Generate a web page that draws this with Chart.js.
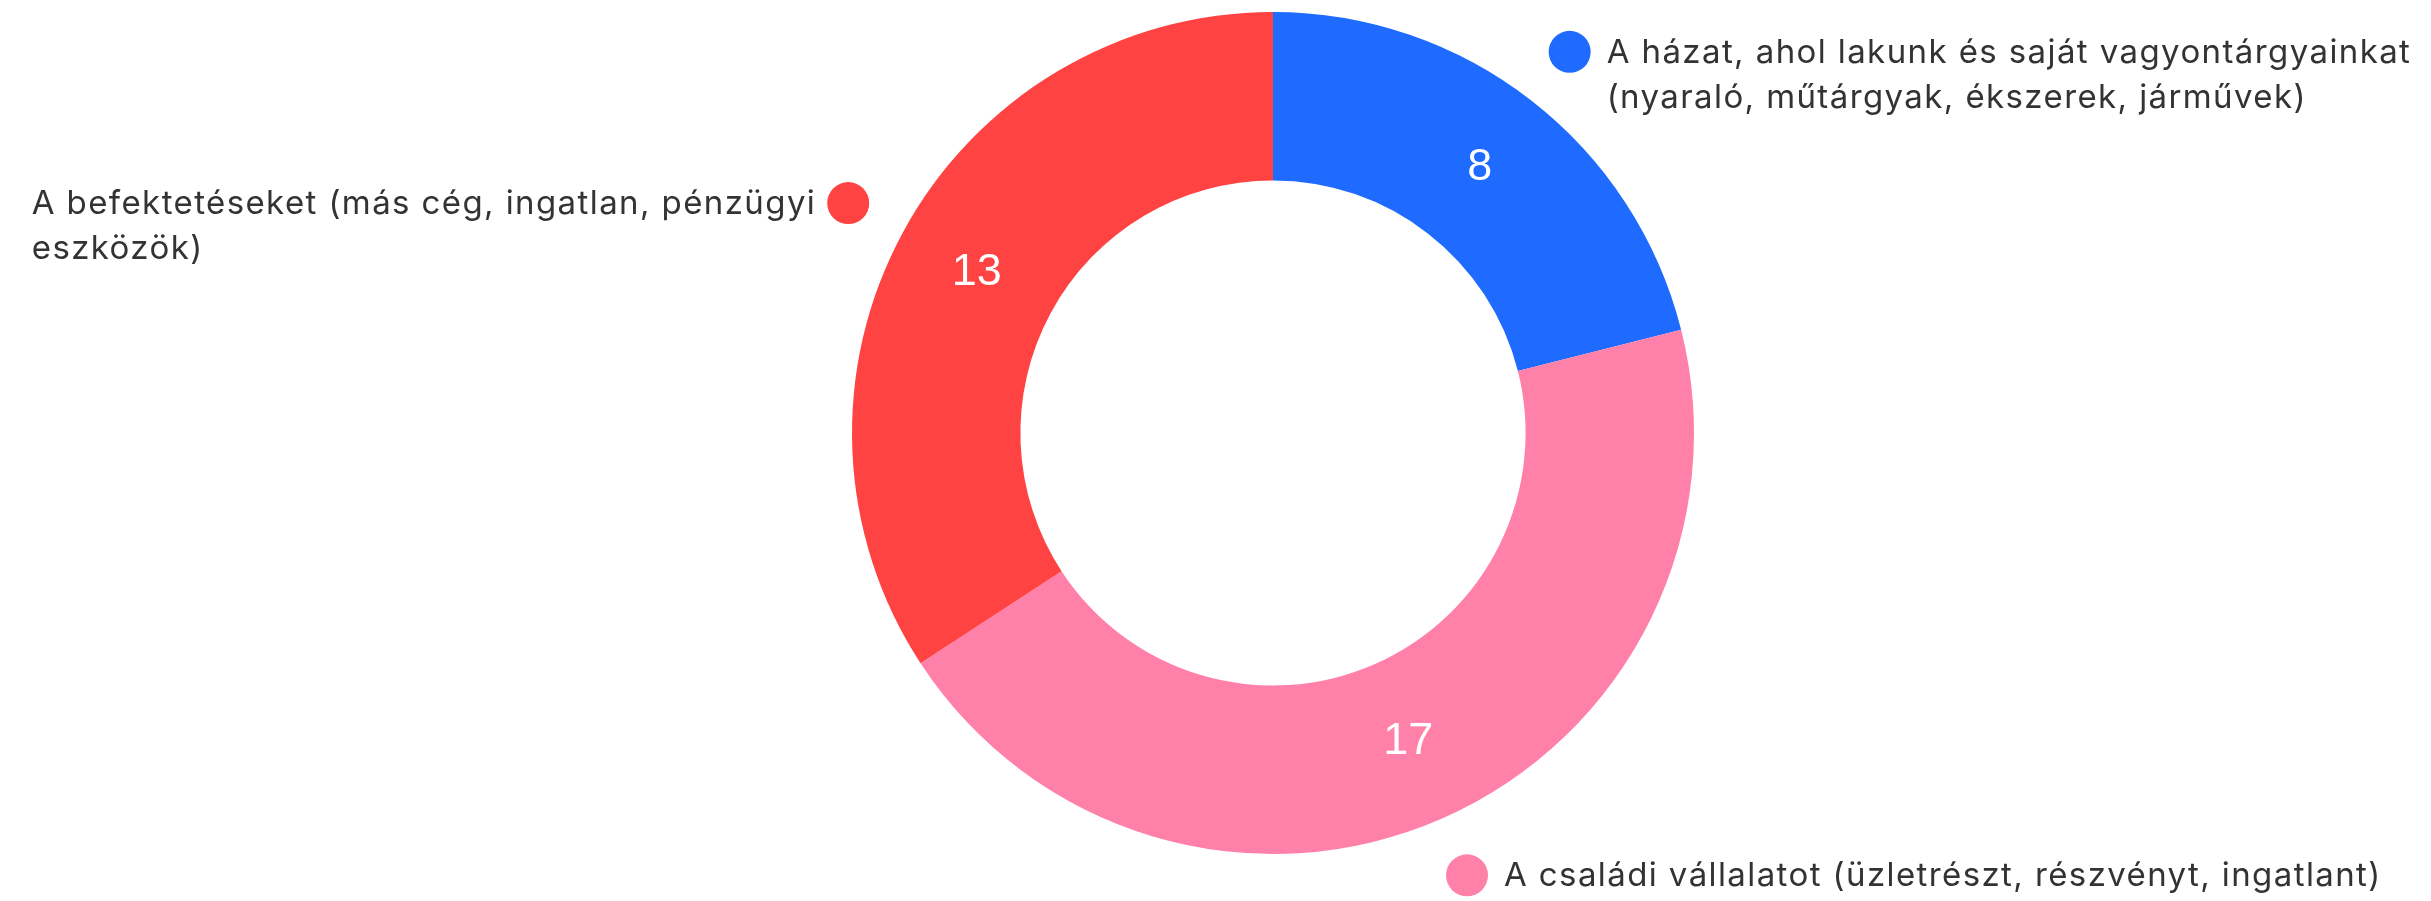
<!DOCTYPE html>
<html>
<head>
<meta charset="utf-8">
<script src="https://cdn.jsdelivr.net/npm/chart.js@4"></script>
<style>
  html, body { margin: 0; padding: 0; background: #fff; }
  #wrap { width: 2431px; height: 901px; }
</style>
</head>
<body>
<div id="wrap"><canvas id="myChart" width="2431" height="901"></canvas></div>
<script>
// categories (split into the lines shown next to each slice)
const categories = [
  ['A házat, ahol lakunk és saját vagyontárgyainkat', '(nyaraló, műtárgyak, ékszerek, járművek)'],
  ['A családi vállalatot (üzletrészt, részvényt, ingatlant)'],
  ['A befektetéseket (más cég, ingatlan, pénzügyi', 'eszközök)']
];
const values = [8, 17, 13];
const colors = ['#1f6bff', '#ff80a8', '#ff4242'];

// draws the numbers inside the ring and the dot + text callouts outside
const calloutPlugin = {
  id: 'callouts',
  afterDatasetsDraw(chart) {
    let ctx = chart.ctx;
    let meta = chart.getDatasetMeta(0);
    meta.data.forEach((arc, i) => {
      let p = arc.getProps(['x', 'y', 'startAngle', 'endAngle', 'innerRadius', 'outerRadius'], true);
      let mid = (p.startAngle + p.endAngle) / 2;
      let cos = Math.cos(mid), sin = Math.sin(mid);

      // value in the middle of the ring
      let rv = (p.innerRadius + p.outerRadius) / 2;
      ctx.save();
      ctx.fillStyle = '#ffffff';
      ctx.font = '45px "Liberation Sans", Arial, sans-serif';
      ctx.textAlign = 'center';
      ctx.textBaseline = 'middle';
      ctx.fillText(values[i], p.x + rv * cos, p.y + rv * sin);

      // dot
      let rd = p.outerRadius + 62;
      let dx = p.x + rd * cos, dy = p.y + rd * sin;
      ctx.beginPath();
      ctx.arc(dx, dy, 21, 0, Math.PI * 2);
      ctx.fillStyle = colors[i];
      ctx.fill();

      // text
      ctx.font = '33px Inter, "Noto Sans", sans-serif';
      ctx.letterSpacing = '1.4px';
      ctx.fillStyle = '#333333';
      ctx.textAlign = 'left';
      ctx.textBaseline = 'middle';
      let lines = categories[i];
      let maxW = Math.max(...lines.map(l => ctx.measureText(l).width));
      let tx = cos >= 0 ? dx + 37 : dx - 32 - maxW;
      lines.forEach((l, k) => {
        ctx.fillText(l, tx, dy + 1 + k * 45);
      });
      ctx.restore();
    });
  }
};

var ctx = document.getElementById('myChart').getContext('2d');
var chartjs = new Chart(ctx, {
  type: 'doughnut',
  data: {
    labels: categories.map(c => c.join(' ')),
    datasets: [{
      data: values,
      backgroundColor: colors,
      borderWidth: 0
    }]
  },
  options: {
    responsive: false,
    animation: false,
    cutout: '60%',
    layout: { padding: { top: 12, bottom: 47, left: 115, right: 0 } },
    plugins: {
      legend: { display: false },
      tooltip: { enabled: false }
    }
  },
  plugins: [calloutPlugin]
});
</script>
</body>
</html>
